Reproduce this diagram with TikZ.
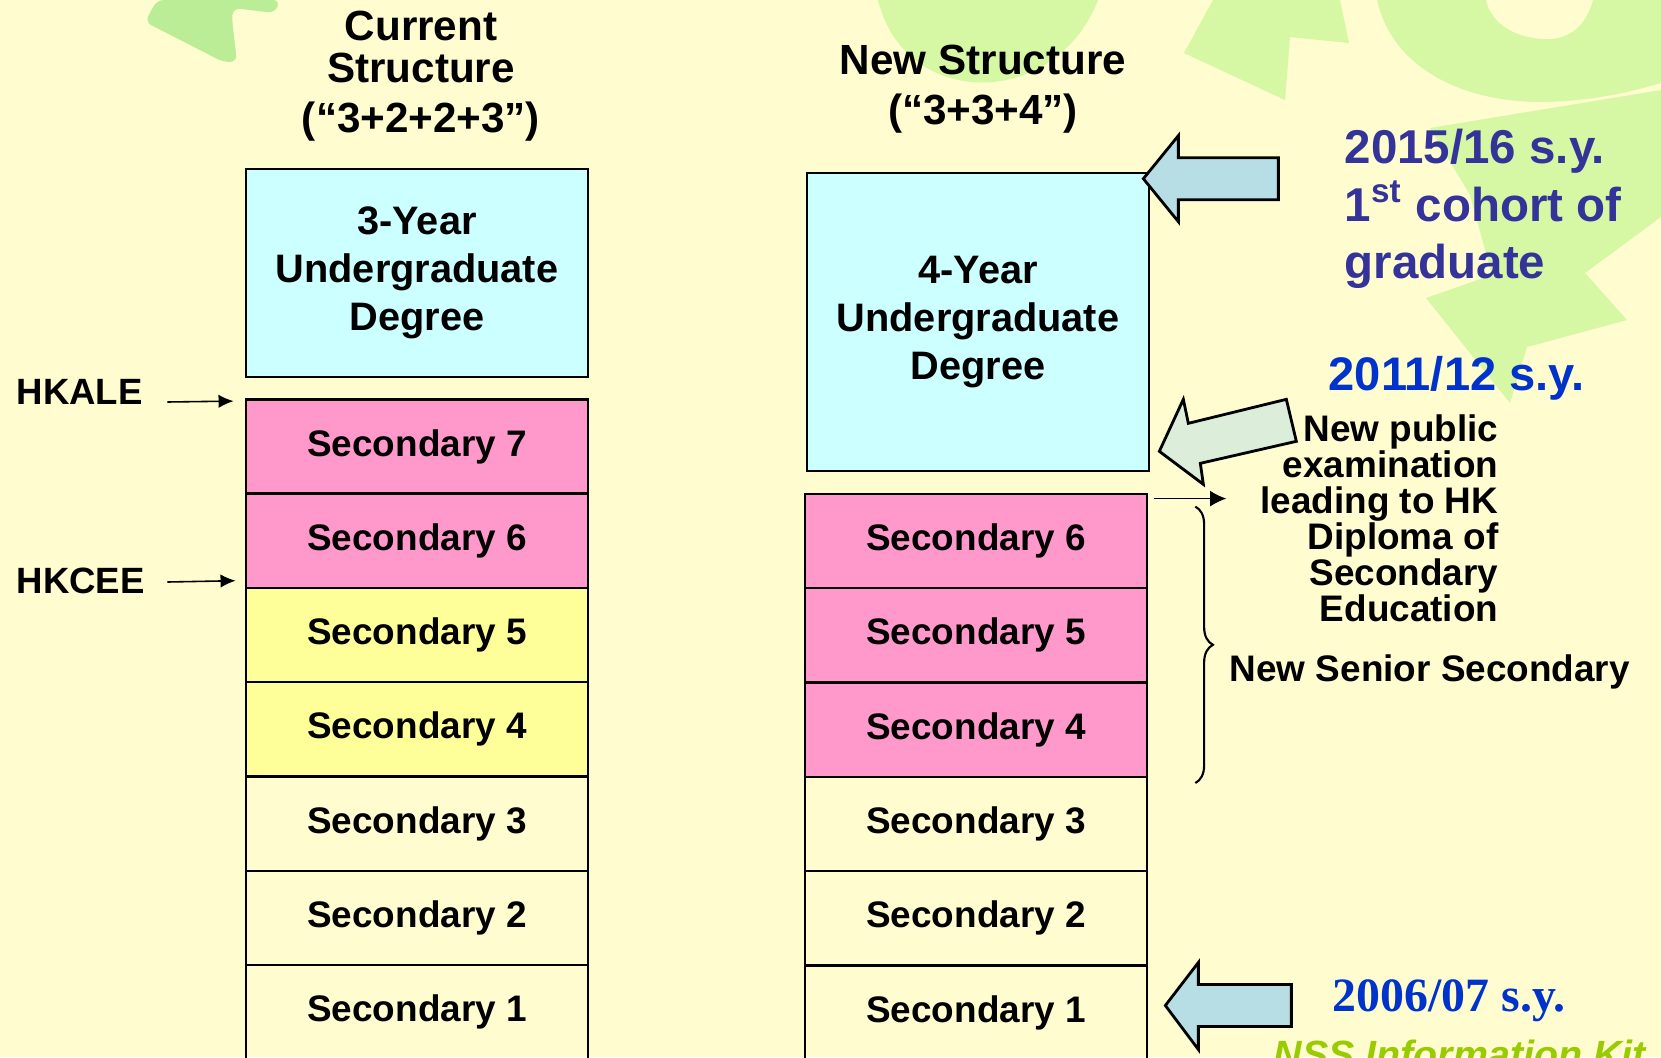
\documentclass[tikz,border=0pt]{standalone}
\usepackage{fontspec}
\setmainfont{Liberation Sans}
\newfontfamily\yearserif{Liberation Serif}
\usepackage{tikz}
\usetikzlibrary{
  	positioning,
  	arrows.meta,
  	calc,
		decorations.pathreplacing
  }
\definecolor{slidebg}{RGB}{255,252,208}
\definecolor{leafgreen}{RGB}{214,247,163}
\definecolor{leafdark}{RGB}{186,237,150}
\definecolor{degcyan}{RGB}{204,255,255}
\definecolor{secpink}{RGB}{255,153,204}
\definecolor{secyellow}{RGB}{255,255,153}
\definecolor{arrblue}{RGB}{183,222,228}
\definecolor{arrmint}{RGB}{220,237,218}
\definecolor{syviolet}{RGB}{51,51,153}
\definecolor{syblue}{RGB}{0,51,204}
\definecolor{kitgreen}{RGB}{153,204,0}
\tikzstyle{secbox}=[draw,line width=0.7pt,minimum width=3.42cm,minimum height=0.943cm,inner sep=0pt,font=\fontsize{10.5}{12}\selectfont\bfseries]
\tikzstyle{degbox}=[secbox,fill=degcyan,align=center,font=\fontsize{11.3}{13.6}\selectfont\bfseries]
\tikzstyle{headtext}=[inner sep=0pt,align=center,font=\fontsize{12}{12}\selectfont\bfseries]
\tikzstyle{sidetext}=[inner sep=0pt,font=\fontsize{10.4}{12}\selectfont\bfseries]
\tikzstyle{yeartext}=[inner sep=0pt,font=\fontsize{13.5}{16}\selectfont\bfseries]
\tikzstyle{thinarr}=[line width=0.45pt,-{Latex[length=4.3pt,width=3.8pt]}]
\tikzstyle{blockarr}=[draw,line width=0.8pt,line join=miter]

\begin{document}
\begin{tikzpicture}[x=0.01cm,y=-0.01cm]
\fill[slidebg] (0,0) rectangle (1661,1057);
\useasboundingbox (0,0) rectangle (1661,1057);
% leaves behind
\fill[leafdark,rounded corners=2pt] (145,22) -- (157,0) -- (280,0) -- (275,13) -- (233,8) -- (232,20)
   -- (237,62) -- (223,62) -- (200,50) -- cycle;
\fill[leafgreen] (878,0) .. controls (905,110) and (1055,110) .. (1098,0) -- cycle;
\fill[leafgreen] (1213,0) -- (1340,0) -- (1349,43) -- (1290,37) -- (1285,100) -- (1184,53) -- cycle;
\fill[leafgreen] (1377,0) .. controls (1390,60) and (1450,100) .. (1536,102)
   .. controls (1590,102) and (1630,92) .. (1661,83) -- (1661,0) -- (1593,0)
   .. controls (1585,30) and (1565,40) .. (1545,39)
   .. controls (1510,38) and (1490,20) .. (1486,0) -- cycle;
\fill[leafgreen] (1430,128) -- (1661,90) -- (1661,217) -- (1585,273) -- (1627,320) -- (1527,347)
   -- (1510,403) -- (1426,298) -- (1492,275) -- (1470,195) -- cycle;

% titles
\node[headtext,anchor=north] (curtitle) at (421,10) {Current\\Structure\\[2.3pt](“3+2+2+3”)};
\node[headtext,anchor=north] (newtitle) at (983,44) {New Structure\\[2.3pt](“3+3+4”)};

% current structure
\node[degbox,minimum height=2.08cm] (ldeg) at (417,273) {3-Year\\Undergraduate\\Degree};
\node[secbox,fill=secpink] (s7) at (417,446.5) {Secondary 7};
\path (s7)++(0,94.3) node[secbox,fill=secpink] (s6) {Secondary 6};
\path (s6)++(0,94.3) node[secbox,fill=secyellow] (s5) {Secondary 5};
\path (s5)++(0,94.3) node[secbox,fill=secyellow] (s4) {Secondary 4};
\path (s4)++(0,94.3) node[secbox] (s3) {Secondary 3};
\path (s3)++(0,94.3) node[secbox] (s2) {Secondary 2};
\path (s2)++(0,94.3) node[secbox] (s1) {Secondary 1};

% new structure
\node[degbox,minimum height=2.98cm] (rdeg) at (978,322) {4-Year\\Undergraduate\\Degree};
\node[secbox,fill=secpink] (rs6) at (976,541) {Secondary 6};
\path (rs6)++(0,94.3) node[secbox,fill=secpink] (rs5) {Secondary 5};
\path (rs5)++(0,94.3) node[secbox,fill=secpink] (rs4) {Secondary 4};
\path (rs4)++(0,94.3) node[secbox] (rs3) {Secondary 3};
\path (rs3)++(0,94.3) node[secbox] (rs2) {Secondary 2};
\path (rs2)++(0,94.3) node[secbox] (rs1) {Secondary 1};

% exams
\node[sidetext,anchor=base west] (hkale) at (16,404) {HKALE};
\node[sidetext,anchor=base west] (hkcee) at (16,593) {HKCEE};
\draw[thinarr] ($(hkale.base east)+(24,-2)$) -- ($(s7.north west)+(-11,3)$);
\draw[thinarr] ($(hkcee.base east)+(22,-11)$) -- ($(s5.north west)+(-9,-6)$);

% block arrows
\draw[blockarr,fill=arrblue] ($(rdeg.north east)+(-7,7)$) -- ++(35,-43) -- ++(0,22) -- ++(100,0)
   -- ++(0,42) -- ++(-100,0) -- ++(0,22) -- cycle;
\draw[blockarr,fill=arrmint] ($(rdeg.south east)+(9,-21)$) -- ++(24,-52) -- ++(5,24) -- ++(98,-24)
   -- ++(10,42) -- ++(-96,22) -- ++(3,21) -- cycle;
\draw[blockarr,fill=arrblue] ($(rs1.east)+(17,-7)$) -- ++(33,-43) -- ++(0,22) -- ++(93,0)
   -- ++(0,42) -- ++(-93,0) -- ++(0,23) -- cycle;

% years
\node[yeartext,text=syviolet,anchor=base west] (y15) at (1344,163) {2015/16 s.y.};
\path (y15.base west)++(0,58) node[yeartext,text=syviolet,anchor=base west] (y15b) {1\textsuperscript{st} cohort of};
\path (y15b.base west)++(0,57) node[yeartext,text=syviolet,anchor=base west] (y15c) {graduate};
\node[yeartext,font=\fontsize{13.4}{16}\selectfont\bfseries,text=syblue,anchor=base west] (y11) at (1328,390) {2011/12 s.y.};
\node[sidetext,font=\fontsize{10.5}{10.24}\selectfont\bfseries,align=right,anchor=north east] (exam)
   at (1499,414) {New public\\examination\\leading to HK\\Diploma of\\Secondary\\Education};
\coordinate (examptr) at ($(rs6.north east)+(78,6)$);
\draw[thinarr,-{Latex[length=4.6pt,width=4.5pt]}] ($(rs6.north east)+(6,6)$) -- (examptr);
\draw[line width=0.6pt,decorate,decoration={brace,amplitude=5pt}]
   ($(rs6.north east)+(47,14)$) -- ($(rs4.south east)+(47,5)$);
\node[sidetext,font=\fontsize{10.5}{12}\selectfont\bfseries,anchor=base west] (nss) at (1229,681) {New Senior Secondary};
\node[inner sep=0pt,font=\yearserif\fontsize{13.6}{16}\selectfont\bfseries,text=syblue,anchor=base west] (y06) at (1332,1011) {2006/07 s.y.};
\node[inner sep=0pt,font=\fontsize{11.2}{14}\selectfont\bfseries\itshape,text=kitgreen,anchor=base west] (kit) at (1273,1068) {NSS Information Kit};
\end{tikzpicture}
\end{document}
